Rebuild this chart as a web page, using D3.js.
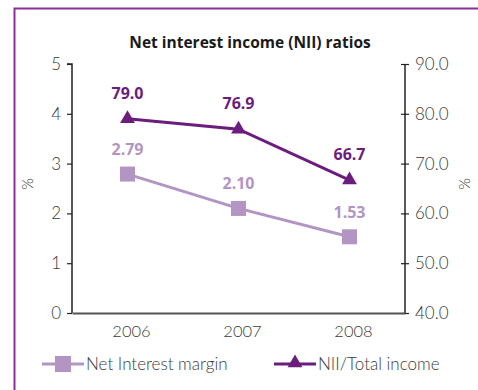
<!DOCTYPE html>
<html>
<head>
<meta charset="utf-8">
<script src="https://cdn.jsdelivr.net/npm/d3@7"></script>
<style>
  html, body { margin: 0; padding: 0; background: #fff; }
  svg { display: block; font-family: "Open Sans", "Noto Sans", sans-serif; }
  .light { font-family: "Lato", "Open Sans", sans-serif; font-weight: 300; }
</style>
</head>
<body>
<svg id="chart" width="478" height="390"></svg>
<script>
// Chart data
const years = ["2006", "2007", "2008"];
const netInterestMargin = [2.79, 2.10, 1.53];
const niiTotalIncome = [79.0, 76.9, 66.7];
const leftTicks = [0, 1, 2, 3, 4, 5];
const rightTicks = [40, 50, 60, 70, 80, 90];
const marginLabels = ["2.79", "2.10", "1.53"];
const niiLabels = ["79.0", "76.9", "66.7"];
const seriesNames = ["Net Interest margin", "NII/Total income"];

const lightPurple = "#b295c3";
const darkPurple = "#6b1d7d";
const frameColor = "#8a2f9c";
const axisColor = "#222";
const textColor = "#3a3a3a";

const svg = d3.select("#chart");

// Frame (left and top edges)
svg.append("path")
  .attr("d", "M14.5,390 L14.5,8.5 L478,8.5")
  .attr("fill", "none")
  .attr("stroke", frameColor)
  .attr("stroke-width", 2);

const plot = { left: 72, right: 405, top: 64, bottom: 313 };

const x = d3.scaleBand().domain(years).range([plot.left, plot.right]);
const yL = d3.scaleLinear().domain([0, 5]).range([plot.bottom, plot.top]);
const yR = d3.scaleLinear().domain([40, 90]).range([plot.bottom, plot.top]);
const cx = d => x(d) + x.bandwidth() / 2;

// Title
svg.append("text")
  .attr("x", 250).attr("y", 48)
  .attr("text-anchor", "middle")
  .attr("font-size", 15.5)
  .attr("font-weight", 700)
  .attr("fill", "#1a1a1a")
  .text("Net interest income (NII) ratios");

// Left axis
const leftAxis = svg.append("g")
  .attr("transform", `translate(${plot.left},0)`)
  .call(d3.axisLeft(yL).tickValues(leftTicks).tickFormat(d3.format("d")).tickSize(5).tickPadding(6));
// Right axis
const rightAxis = svg.append("g")
  .attr("transform", `translate(${plot.right},0)`)
  .call(d3.axisRight(yR).tickValues(rightTicks).tickFormat(d3.format(".1f")).tickSizeInner(5).tickSizeOuter(0).tickPadding(5));
// Right axis ticks cross the axis line
rightAxis.selectAll(".tick line").attr("x1", -4).attr("x2", 4);
rightAxis.select(".domain").attr("d", `M0,${plot.top}V${plot.bottom}`);
leftAxis.select(".domain").attr("d", `M-5,${plot.top}H0V${plot.bottom}`);

[leftAxis, rightAxis].forEach(g => {
  g.attr("font-family", null);
  g.selectAll(".domain").attr("stroke", axisColor).attr("stroke-width", 1.5);
  g.selectAll(".tick line").attr("stroke", axisColor).attr("stroke-width", 1.2);
  g.selectAll(".tick text")
    .attr("class", "light")
    .attr("font-size", 17)
    .attr("fill", textColor);
});

// Bottom axis
const bottomAxis = svg.append("g")
  .attr("transform", `translate(0,${plot.bottom})`)
  .call(d3.axisBottom(x).tickSize(0).tickPadding(12));
bottomAxis.attr("font-family", null);
bottomAxis.select(".domain").attr("stroke", "#555").attr("stroke-width", 1.8);
bottomAxis.selectAll(".tick text")
  .attr("class", "light")
  .attr("dx", 4)
  .attr("font-size", 16.5)
  .attr("fill", textColor);

// Axis titles
svg.append("text")
  .attr("class", "light")
  .attr("transform", "translate(33,184) rotate(-90)")
  .attr("text-anchor", "middle")
  .attr("font-size", 15).attr("fill", textColor)
  .text("%");
svg.append("text")
  .attr("class", "light")
  .attr("transform", "translate(470,184) rotate(-90)")
  .attr("text-anchor", "middle")
  .attr("font-size", 15).attr("fill", textColor)
  .text("%");

// Net Interest margin series
const lineL = d3.line().x((d, i) => cx(years[i])).y(d => yL(d));
svg.append("path")
  .datum(netInterestMargin)
  .attr("d", lineL)
  .attr("fill", "none")
  .attr("stroke", lightPurple)
  .attr("stroke-width", 3);
svg.selectAll(".sq")
  .data(netInterestMargin)
  .join("rect")
  .attr("x", (d, i) => cx(years[i]) - 7.5)
  .attr("y", d => yL(d) - 7.5)
  .attr("width", 15).attr("height", 15)
  .attr("fill", lightPurple);
svg.selectAll(".sqlab")
  .data(netInterestMargin)
  .join("text")
  .attr("x", (d, i) => cx(years[i]))
  .attr("y", d => yL(d) - 19)
  .attr("text-anchor", "middle")
  .attr("font-size", 16).attr("font-weight", 700)
  .attr("fill", lightPurple)
  .text((d, i) => marginLabels[i]);

// NII/Total income series
const lineR = d3.line().x((d, i) => cx(years[i])).y(d => yR(d));
svg.append("path")
  .datum(niiTotalIncome)
  .attr("d", lineR)
  .attr("fill", "none")
  .attr("stroke", darkPurple)
  .attr("stroke-width", 3);
const tri = d3.symbol().type(d3.symbolTriangle).size(95);
svg.selectAll(".tri")
  .data(niiTotalIncome)
  .join("path")
  .attr("transform", (d, i) => `translate(${cx(years[i])},${yR(d)})`)
  .attr("d", tri)
  .attr("fill", darkPurple);
svg.selectAll(".trilab")
  .data(niiTotalIncome)
  .join("text")
  .attr("x", (d, i) => cx(years[i]))
  .attr("y", d => yR(d) - 20)
  .attr("text-anchor", "middle")
  .attr("font-size", 16).attr("font-weight", 700)
  .attr("fill", darkPurple)
  .text((d, i) => niiLabels[i]);

// Legend
const legend = svg.append("g");
const legendItems = [
  { name: seriesNames[0], color: lightPurple, x0: 42, shape: "square" },
  { name: seriesNames[1], color: darkPurple, x0: 274, shape: "triangle" }
];
const ly = 364;
legendItems.forEach(it => {
  legend.append("line")
    .attr("x1", it.x0).attr("x2", it.x0 + 42)
    .attr("y1", ly).attr("y2", ly)
    .attr("stroke", it.color).attr("stroke-width", 3);
  if (it.shape === "square") {
    legend.append("rect")
      .attr("x", it.x0 + 21 - 8).attr("y", ly - 8)
      .attr("width", 16).attr("height", 16)
      .attr("fill", it.color);
  } else {
    legend.append("path")
      .attr("transform", `translate(${it.x0 + 21},${ly - 1})`)
      .attr("d", d3.symbol().type(d3.symbolTriangle).size(95))
      .attr("fill", it.color);
  }
  legend.append("text")
    .attr("class", "light")
    .attr("x", it.x0 + 44).attr("y", ly + 6)
    .attr("font-size", 17)
    .attr("fill", textColor)
    .text(it.name);
});
</script>
</body>
</html>
